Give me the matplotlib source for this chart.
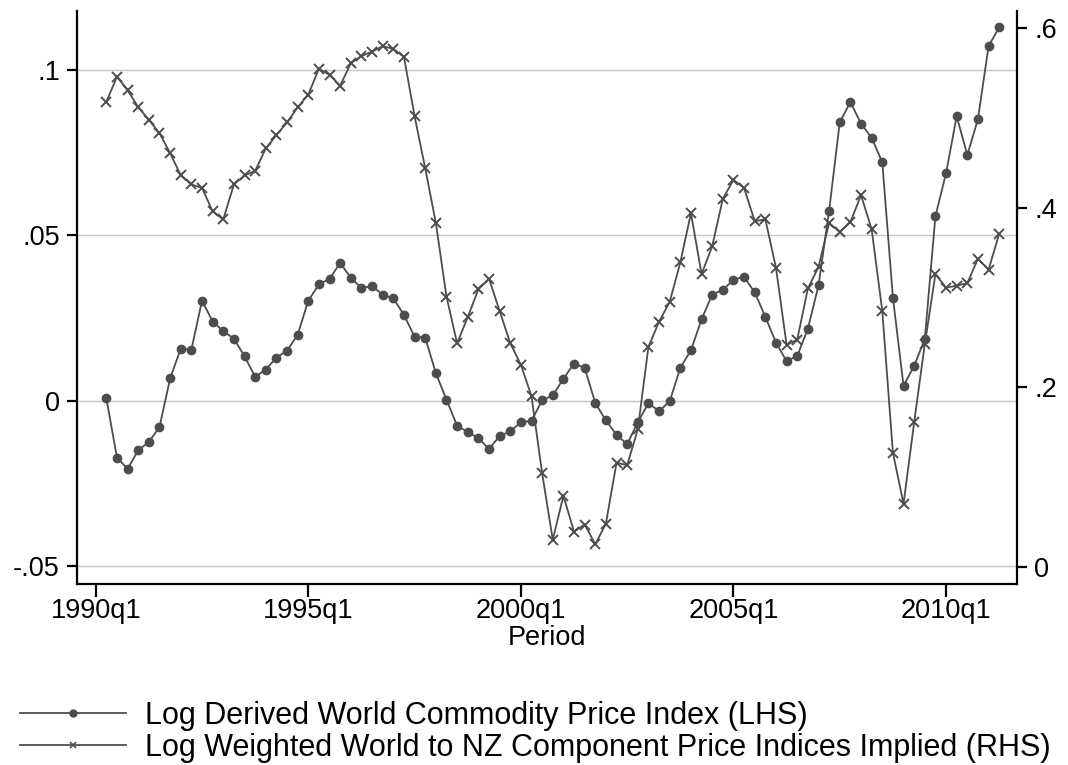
import numpy as np
import matplotlib
matplotlib.use("Agg")
import matplotlib.pyplot as plt
from matplotlib.lines import Line2D

# quarters since 1990q1 (1 = 1990q2 ... 85 = 2011q2)
quarter = np.arange(1, 86)
periods = [f"{1990 + q // 4}q{q % 4 + 1}" for q in quarter]

# Log Derived World Commodity Price Index (LHS)
lhs = [0.0008, -0.0171, -0.0205, -0.0149, -0.0124, -0.0079, 0.0068, 0.0158, 0.0155, 0.0303,
       0.0240, 0.0211, 0.0188, 0.0135, 0.0073, 0.0095, 0.0131, 0.0152, 0.0200, 0.0303,
       0.0352, 0.0369, 0.0417, 0.0372, 0.0341, 0.0347, 0.0321, 0.0310, 0.0260, 0.0194,
       0.0191, 0.0084, 0.0004, -0.0075, -0.0094, -0.0112, -0.0145, -0.0106, -0.0092, -0.0064,
       -0.0060, 0.0002, 0.0017, 0.0067, 0.0113, 0.0100, -0.0006, -0.0059, -0.0102, -0.0131,
       -0.0064, -0.0007, -0.0031, -0.0001, 0.0100, 0.0153, 0.0247, 0.0321, 0.0336, 0.0366,
       0.0375, 0.0328, 0.0254, 0.0176, 0.0120, 0.0136, 0.0218, 0.0349, 0.0575, 0.0842,
       0.0903, 0.0838, 0.0795, 0.0721, 0.0312, 0.0046, 0.0106, 0.0187, 0.0558, 0.0688,
       0.0860, 0.0743, 0.0851, 0.1072, 0.1129]

# Log Weighted World to NZ Component Price Indices Implied (RHS)
rhs = [0.518, 0.546, 0.531, 0.512, 0.498, 0.483, 0.461, 0.436, 0.426, 0.422,
       0.396, 0.387, 0.426, 0.436, 0.441, 0.466, 0.481, 0.495, 0.512, 0.526,
       0.555, 0.548, 0.536, 0.561, 0.569, 0.574, 0.580, 0.577, 0.568, 0.502,
       0.444, 0.383, 0.301, 0.249, 0.278, 0.309, 0.321, 0.285, 0.249, 0.225,
       0.190, 0.104, 0.030, 0.079, 0.039, 0.047, 0.025, 0.048, 0.116, 0.113,
       0.153, 0.245, 0.273, 0.295, 0.339, 0.394, 0.326, 0.357, 0.410, 0.431,
       0.422, 0.385, 0.387, 0.333, 0.247, 0.253, 0.310, 0.334, 0.383, 0.373,
       0.384, 0.414, 0.376, 0.285, 0.127, 0.070, 0.161, 0.248, 0.326, 0.311,
       0.313, 0.316, 0.343, 0.331, 0.371]

xtick_pos = [0, 20, 40, 60, 80]
xtick_labels = ["1990q1", "1995q1", "2000q1", "2005q1", "2010q1"]
lhs_ticks = [-0.05, 0, 0.05, 0.1]
lhs_labels = ["-.05", "0", ".05", ".1"]
rhs_ticks = [0, 0.2, 0.4, 0.6]
rhs_labels = ["0", ".2", ".4", ".6"]

labels = ["Log Derived World Commodity Price Index (LHS)",
          "Log Weighted World to NZ Component Price Indices Implied (RHS)"]

plt.rcParams['font.family'] = ['Liberation Sans', 'DejaVu Sans']
col = '#4d4d4d'
fs = 19.5

fig = plt.figure(figsize=(10.68, 7.65), dpi=100)
ax = fig.add_axes([0.0724, 0.2366, 0.8798, 0.749])
ax2 = ax.twinx()

ax.plot(quarter, lhs, color=col, lw=1.3, marker='o', ms=6, mec=col, mfc=col)
ax2.plot(quarter, rhs, color=col, lw=1.3, marker='x', ms=6.5, mew=1.4)

ax.set_xlim(-1.73, 86.67)
ax.set_ylim(-0.0553, 0.1178)
ax2.set_ylim(-0.0193, 0.6192)

ax.set_xticks(xtick_pos)
ax.set_xticklabels(xtick_labels)
ax.set_yticks(lhs_ticks)
ax.set_yticklabels(lhs_labels)
ax2.set_yticks(rhs_ticks)
ax2.set_yticklabels(rhs_labels)

ax.grid(axis='y', color='#c4c4c4', lw=1.0)
ax.set_axisbelow(True)

for a in (ax, ax2):
    a.spines['top'].set_visible(False)
    for s in ('left', 'right', 'bottom'):
        a.spines[s].set_linewidth(1.6)
    a.tick_params(axis='y', labelsize=fs, width=1.6, length=7.5, pad=5)
ax.tick_params(axis='x', labelsize=fs, width=1.6, length=9, pad=1)
ax.spines['right'].set_visible(False)
ax2.spines['left'].set_visible(False)
ax2.spines['bottom'].set_visible(False)

ax.set_xlabel("Period", fontsize=fs)
ax.xaxis.set_label_coords(0.5, -0.072)

handles = [Line2D([], [], color=col, lw=1.3, marker='o', ms=5),
           Line2D([], [], color=col, lw=1.3, marker='x', ms=5, mew=1.2)]
fig.legend(handles, labels, loc='upper left', bbox_to_anchor=(0.019, 0.084),
           frameon=False, fontsize=22, handlelength=3.45, handletextpad=0.62,
           labelspacing=0.08, borderaxespad=0, borderpad=0,
           bbox_transform=fig.transFigure)

fig.savefig("out.png", dpi=100)
